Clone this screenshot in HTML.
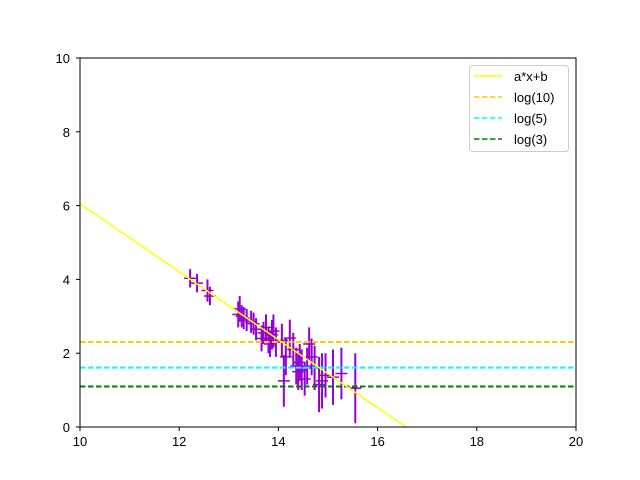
<!DOCTYPE html>
<html style="margin:0;padding:0;overflow:hidden;width:640px;height:480px;"><head><meta charset="utf-8"><style>
body{margin:0;padding:0;background:#fff;overflow:hidden;width:640px;height:480px;}
svg{display:block;font-family:"Liberation Sans",sans-serif;}
</style></head><body>
<svg id="c" width="640" height="480">
<rect x="0" y="0" width="640" height="480" fill="#fff"/>
<g id="plot"></g>
<rect x="80" y="58" width="496" height="369" fill="none" stroke="#000" stroke-width="1"/>
<g id="ticks" font-size="13" fill="#000"></g>
<g>
<rect x="469.5" y="65.5" width="99" height="86" rx="3" fill="#fff" fill-opacity="0.8" stroke="#ccc"/>
<line x1="474" y1="76" x2="502" y2="76" stroke="#ffff00" stroke-width="1.5"/>
<text x="514" y="81" font-size="13">a*x+b</text>
<line x1="474" y1="97" x2="502" y2="97" stroke="#ffcc00" stroke-width="1.5" stroke-dasharray="5.5,2.5"/>
<text x="514" y="102" font-size="13">log(10)</text>
<line x1="474" y1="118" x2="502" y2="118" stroke="#00ffff" stroke-width="1.5" stroke-dasharray="5.5,2.5"/>
<text x="514" y="123" font-size="13">log(5)</text>
<line x1="474" y1="139" x2="502" y2="139" stroke="#008000" stroke-width="1.5" stroke-dasharray="5.5,2.5"/>
<text x="514" y="144" font-size="13">log(3)</text>
</g>
</svg>
<script>
const xs=[12.22,12.36,12.57,12.62,13.19,13.22,13.26,13.3,13.36,13.45,13.5,13.55,13.66,13.7,13.75,13.8,13.83,13.87,13.9,13.95,14.07,14.11,14.15,14.23,14.3,14.36,14.4,14.43,14.47,14.53,14.58,14.62,14.67,14.73,14.82,14.88,14.95,15.1,15.27,15.55];
const ys=[4.03,3.9,3.7,3.55,3.05,3.2,3.0,2.95,2.9,2.85,2.8,2.65,2.4,2.55,2.7,2.35,2.25,2.5,2.6,2.3,2.35,1.25,1.9,2.41,2.1,1.65,1.5,1.75,1.55,1.3,1.65,2.25,1.9,1.6,1.15,1.25,1.4,1.35,1.45,1.05];
const es=[0.25,0.25,0.3,0.25,0.35,0.35,0.3,0.3,0.3,0.3,0.3,0.3,0.35,0.3,0.35,0.35,0.35,0.4,0.45,0.4,0.45,0.7,0.5,0.5,0.45,0.5,0.5,0.5,0.55,0.45,0.5,0.45,0.5,0.6,0.75,0.75,0.6,0.75,0.7,0.95];
const slope=-0.921, intercept=15.26;
const hlines=[[Math.log(10),'#ffcc00','log10'],[Math.log(5),'#00ffff','log5'],[Math.log(3),'#008000','log3']];
const xt=[10,12,14,16,18,20], yt=[0,2,4,6,8,10];
const X=v=>80+(v-10)*49.6, Y=v=>427-v*36.9;
const NS='http://www.w3.org/2000/svg';
const P=document.getElementById('plot'), T=document.getElementById('ticks');
function mk(p,tag,a){const e=document.createElementNS(NS,tag);for(const k in a)e.setAttribute(k,a[k]);p.appendChild(e);return e;}
const cl=mk(P,'clipPath',{id:'cp'});mk(cl,'rect',{x:80,y:58,width:496,height:369});
const g=mk(P,'g',{'clip-path':'url(#cp)'});
xs.forEach((x,i)=>{
 const v=mk(g,'line',{x1:X(x),x2:X(x),y1:Y(ys[i]-es[i]),y2:Y(ys[i]+es[i]),stroke:'#9400d3','stroke-width':2});
 
 
 const h=mk(g,'line',{x1:X(x)-6,x2:X(x)+6,y1:Y(ys[i]),y2:Y(ys[i]),stroke:'#9400d3','stroke-width':1.5});
 
 
});
hlines.forEach(h=>{
 const l=mk(g,'line',{x1:80,x2:576,y1:Y(h[0]),y2:Y(h[0]),stroke:h[1],'stroke-width':2,'stroke-dasharray':'5.5,2.5'});
 
 
});
const fl=mk(g,'line',{x1:X(10),y1:Y(slope*10+intercept),x2:X(20),y2:Y(slope*20+intercept),stroke:'#ffff00','stroke-width':1.5});


xt.forEach(t=>{mk(T,'line',{x1:X(t),x2:X(t),y1:427,y2:431,stroke:'#000'});
 const e=mk(T,'text',{x:X(t),y:446,'text-anchor':'middle'});e.textContent=t;
 
 });
yt.forEach(t=>{mk(T,'line',{x1:76,x2:80,y1:Y(t),y2:Y(t),stroke:'#000'});
 const e=mk(T,'text',{x:70,y:Y(t)+5,'text-anchor':'end'});e.textContent=t;
 
 });
</script>
</body></html>
